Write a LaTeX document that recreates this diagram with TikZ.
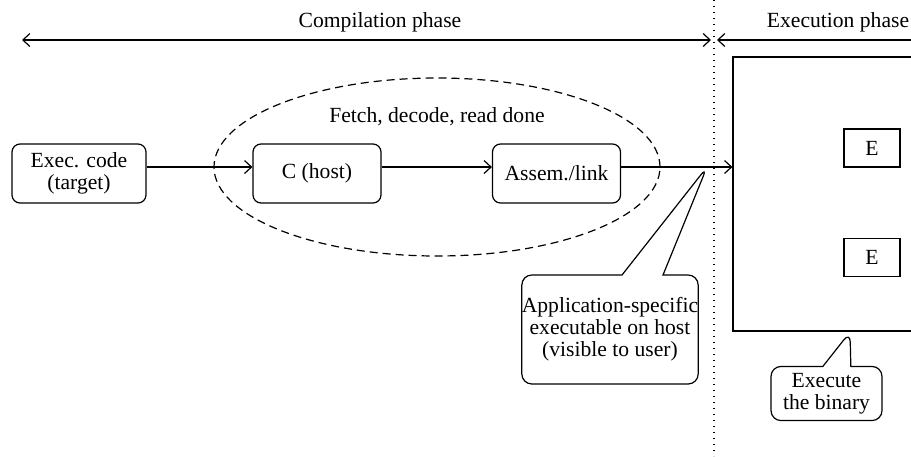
\documentclass[tikz,border=0pt]{standalone}
\usepackage{fontspec}
\setmainfont{Liberation Serif}
\usetikzlibrary{arrows.meta}
\usetikzlibrary{shapes.callouts}

\begin{document}
\begin{tikzpicture}[x=0.5pt,y=-0.5pt,line width=0.6pt,
  font=\fontsize{10.8}{11}\selectfont,
  >={Straight Barb[length=3.5pt,width=6.5pt]},
  stage/.style={draw,rounded corners=4pt,minimum width=64pt,minimum height=29.5pt,align=center,inner sep=0pt},
  ebox/.style={draw,minimum width=28pt,minimum height=19pt,inner sep=0pt},
  note/.style={draw,rectangle callout,rounded corners=5pt,align=center,inner xsep=0pt}]
\useasboundingbox (0,0) rectangle (911,456);
% phases
\draw[dash pattern=on 0.6pt off 2.4pt] (714,0) -- (714,456);
\coordinate (compL) at (22,40);
\coordinate (compR) at (711,40);
\coordinate (execL) at (717,40);
\coordinate (execR) at (935,40);
\draw[<->] (compL) -- (compR);
\draw[<-] (execL) -- (execR);
\node (complbl) at (380,22) {Compilation phase};
\node (execlbl) at (838,22) {Execution phase};
% compile chain
\draw[dash pattern=on 4pt off 2.5pt] (437,167) ellipse [x radius=111.5pt,y radius=44.5pt];
\node (fetch) at (437,117) {Fetch, decode, read done};
\node (exec) [stage,minimum width=67pt] at (79,173.5) {Exec. code\\(target)};
\node (chost) [stage] at (317,173.5) {C (host)};
\node (assem) [stage] at (556.5,173.5) {Assem./link};
\draw[->] ([yshift=3.25pt]exec.east) -- ([yshift=3.25pt]chost.west);
\draw[->] ([yshift=3.25pt]chost.east) -- ([yshift=3.25pt]assem.west);
% execution
\node (bigbox) [draw,minimum width=96pt,minimum height=137pt] at (829,194) {};
\node (e1) [ebox] at (872,148) {E};
\node (e2) [ebox] at (872,257.5) {E};
\coordinate (tipA) at (707,167);
\coordinate (tipB) at (850,332);
\draw[->] ([yshift=3.25pt]assem.east) -- (bigbox.west |- tipA);
% notes
\node (appnote) [note,minimum width=87pt,minimum height=54.5pt,callout pointer width=20.5pt,
  callout absolute pointer={(tipA)}] at (610,329.5) {Application-specific\\executable on host\\(visible to user)};
\node (runnote) [note,minimum width=55.5pt,minimum height=26.5pt,callout pointer width=14pt,
  callout absolute pointer={(tipB)}] at (826.5,393.5) {Execute\\the binary};
\end{tikzpicture}
\end{document}
